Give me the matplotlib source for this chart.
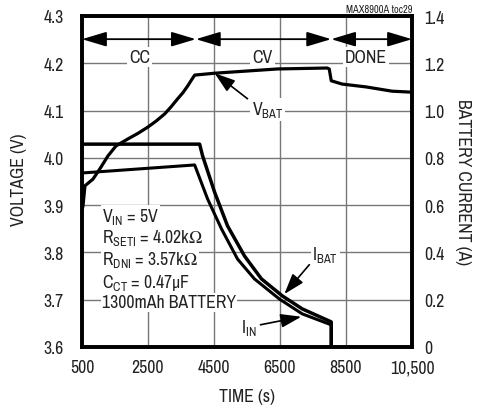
import matplotlib
matplotlib.use('Agg')
import matplotlib.pyplot as plt
from matplotlib import font_manager

# look for a narrow face, the reference uses a condensed sans
FONT, STRETCH, SIZE = 'Liberation Sans', 'normal', 11
for f in font_manager.fontManager.ttflist:
    if ('Narrow' in f.name or 'Condensed' in f.name) and f.style == 'normal':
        FONT, STRETCH, SIZE = f.name, 'normal', 12.8
        break
else:
    for f in font_manager.fontManager.ttflist:
        if f.stretch in ('condensed', 'semi-condensed', 'extra-condensed') and f.style == 'normal':
            FONT, STRETCH, SIZE = f.name, f.stretch, 11.5
            break

plt.rcParams['font.family'] = [FONT, 'DejaVu Sans']
plt.rcParams['font.stretch'] = STRETCH
plt.rcParams['mathtext.fontset'] = 'custom'
plt.rcParams['mathtext.rm'] = FONT
plt.rcParams['mathtext.it'] = FONT
plt.rcParams['mathtext.bf'] = FONT

# battery voltage (left axis)
vbat_t = [500, 530, 590, 832, 1044, 1285, 1527, 1890, 2200, 2494, 2750, 3007, 3200, 3400, 3560,
          3702, 3820, 3914, 4518, 6421, 7932, 7992, 8053, 8385, 9110, 9895, 10470]
vbat_v = [3.89, 3.898, 3.941, 3.955, 3.977, 4.004, 4.025, 4.040, 4.052, 4.065, 4.078, 4.093, 4.108,
          4.125, 4.138, 4.152, 4.165, 4.175, 4.179, 4.188, 4.190, 4.188, 4.163, 4.156, 4.150,
          4.141, 4.139]

# battery current (right axis)
ibat_t = [500, 4065, 4155, 4518, 4911, 5424, 5938, 6572, 7176, 7992, 8053, 8053]
ibat_a = [0.858, 0.858, 0.808, 0.655, 0.512, 0.385, 0.288, 0.216, 0.161, 0.110, 0.106, 0.0]

# input current (right axis)
iin_t = [500, 3914, 4306, 4729, 5213, 5726, 6481, 7176, 7992, 8053, 8053]
iin_a = [0.736, 0.770, 0.626, 0.499, 0.372, 0.288, 0.203, 0.140, 0.097, 0.093, 0.0]

phase_edges = [500, 3950, 8050, 10500]
phase_names = ['CC', 'CV', 'DONE']
phase_label_t = [2252, 5968, 9110]

xticks = [500, 2500, 4500, 6500, 8500, 10500]
xtick_labels = ['500', '2500', '4500', '6500', '8500', '10,500']
vticks = [3.6, 3.7, 3.8, 3.9, 4.0, 4.1, 4.2, 4.3]
iticks = [0, 0.2, 0.4, 0.6, 0.8, 1.0, 1.2, 1.4]

cond_lines = [r'$\mathregular{V_{IN}}$ = 5V',
              r'$\mathregular{R_{SETI}}$ = 4.02k$\mathregular{\Omega}$',
              r'$\mathregular{R_{DNI}}$ = 3.57k$\mathregular{\Omega}$',
              r'$\mathregular{C_{CT}}$ = 0.47$\mathregular{\mu}$F',
              '1300mAh BATTERY']
cond_v = [3.877, 3.833, 3.786, 3.738, 3.695]

TXT = '#222222'

fig = plt.figure(figsize=(4.78, 4.06), dpi=100)
ax = fig.add_axes([82/478, 58/406, 330/478, 331/406])
ax2 = ax.twinx()

ax.set_xlim(500, 10500)
ax.set_ylim(3.6, 4.3)
ax2.set_ylim(0, 1.4)
ax.set_xticks(xticks)
ax.set_xticklabels(xtick_labels)
ax.set_yticks(vticks)
ax.set_yticklabels(['%.1f' % v for v in vticks])
ax2.set_yticks(iticks)
ax2.set_yticklabels(['0'] + ['%.1f' % v for v in iticks[1:]])

ax.tick_params(axis='x', length=0, pad=9, labelsize=SIZE, colors=TXT)
ax.tick_params(axis='y', length=0, pad=13, labelsize=SIZE, colors=TXT)
ax2.tick_params(axis='y', length=0, pad=9, labelsize=SIZE, colors=TXT)
ax.grid(True, color='#777777', lw=1)
ax.set_axisbelow(True)
for a in (ax, ax2):
    for s in a.spines.values():
        s.set_linewidth(2.6)
        s.set_color('k')

ax.plot(vbat_t, vbat_v, color='k', lw=2.3, solid_joinstyle='round', zorder=3)
ax2.plot(ibat_t, ibat_a, color='k', lw=2.5, solid_joinstyle='round', zorder=3)
ax2.plot(iin_t, iin_a, color='k', lw=2.2, solid_joinstyle='round', zorder=3)

# phase arrows along the top
for i in range(len(phase_names)):
    ax.annotate('', xy=(phase_edges[i + 1], 4.251), xytext=(phase_edges[i], 4.251),
                arrowprops=dict(arrowstyle='<|-|>,head_length=1.0,head_width=0.3',
                                color='k', lw=1.3, shrinkA=0, shrinkB=0,
                                mutation_scale=15), zorder=4)
    ax.text(phase_label_t[i], 4.213, phase_names[i], ha='center', va='center',
            fontsize=SIZE, color=TXT, zorder=4,
            bbox=dict(facecolor='white', edgecolor='none', pad=1.5))

bb = dict(facecolor='white', edgecolor='none', pad=1.0)
for s, v in zip(cond_lines, cond_v):
    ax.text(1104, v, s, ha='left', va='center', fontsize=SIZE, color=TXT,
            zorder=4, bbox=bb)

arrow_kw = dict(arrowstyle='-|>,head_length=0.9,head_width=0.3', color='k', lw=1.2,
                shrinkA=0, shrinkB=0, mutation_scale=14)
ax.text(6119, 4.103, r'$\mathregular{V_{BAT}}$', ha='center', va='center',
        fontsize=SIZE, color=TXT, zorder=4, bbox=bb)
ax.annotate('', xy=(4518, 4.179), xytext=(5515, 4.125), arrowprops=arrow_kw, zorder=5)
ax.text(7871, 3.797, r'$\mathregular{I_{BAT}}$', ha='center', va='center',
        fontsize=SIZE, color=TXT, zorder=4, bbox=bb)
ax.annotate('', xy=(6632, 3.712), xytext=(7388, 3.774), arrowprops=arrow_kw, zorder=5)
ax.text(5545, 3.643, r'$\mathregular{I_{IN}}$', ha='center', va='center',
        fontsize=SIZE, color=TXT, zorder=4)
ax.annotate('', xy=(7146, 3.664), xytext=(5908, 3.647), arrowprops=arrow_kw, zorder=5)

fig.text(19/478, 1 - 180/406, 'VOLTAGE (V)', rotation=90, ha='center', va='center',
         fontsize=SIZE, color=TXT)
fig.text(463/478, 1 - 182/406, 'BATTERY CURRENT (A)', rotation=270, ha='center',
         va='center', fontsize=SIZE, color=TXT)
fig.text(247/478, 9/406, 'TIME (s)', ha='center', va='center', fontsize=SIZE, color=TXT)
fig.text(412/478, 1 - 10/406, 'MAX8900A toc29', ha='right', va='center', fontsize=7.5,
         color=TXT)

plt.savefig('out.png', dpi=100)
